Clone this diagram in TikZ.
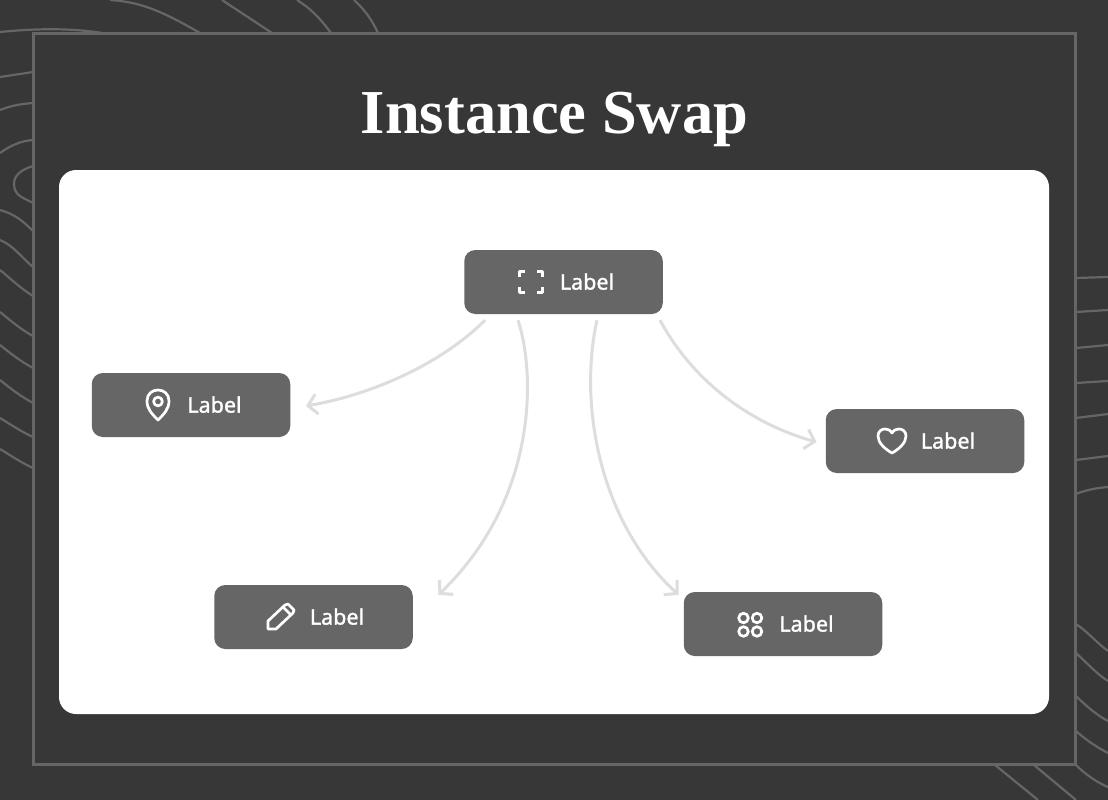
\documentclass[tikz,border=0pt]{standalone}
\usepackage{fontspec}
\setmainfont{Liberation Serif}
\newfontfamily\labelfont[FakeBold=1.4]{Noto Sans}
\usetikzlibrary{arrows.meta}
\definecolor{backdrop}{HTML}{373737}
\definecolor{linegray}{HTML}{666666}
\definecolor{arrowgray}{HTML}{DDDDDD}
\tikzstyle{box} = [
	rectangle,
	rounded corners=11pt,
	minimum width=198.5pt,
	minimum height=64pt,
	inner sep=0pt,
	fill=linegray
]
\tikzstyle{tag} = [
	anchor=base,
	inner sep=0pt,
	text=white,
	font=\labelfont\fontsize{21.5}{24}\selectfont
]
\tikzstyle{contour} = [draw=linegray, line width=2.2pt]
\tikzstyle{icon} = [draw=white, line width=2.7pt, line join=round]
\tikzstyle{arrow} = [draw=arrowgray, line width=3pt, -{Straight Barb[length=9pt,width=20pt]}]

\begin{document}
\begin{tikzpicture}[x=1pt, y=-1pt]
    \useasboundingbox (0, 0) rectangle (1108, 800);
    \fill[backdrop] (0, 0) rectangle (1108, 800);
    % top and left lines
    \draw[contour] (0, 32) .. controls (30, 29) and (70, 27) .. (108, 34);
    \draw[contour] (110, 0) .. controls (140, 2) and (160, 10) .. (200, 33);
    \draw[contour] (222, 0) -- (272, 33);
    \draw[contour] (297, 0) .. controls (310, 8) and (320, 18) .. (331, 33);
    \draw[contour] (354, 0) .. controls (365, 10) and (372, 20) .. (378, 33);
    \draw[contour] (0, 77) -- (33, 72);
    \draw[contour] (0, 110) .. controls (10, 106) and (20, 104) .. (33, 103);
    \draw[contour] (0, 153) .. controls (10, 146) and (20, 141) .. (33, 140);
    \draw[contour] (33, 166) .. controls (20, 170) and (14, 176) .. (14, 184) .. controls (14, 196) and (24, 198) .. (33, 203);
    \draw[contour] (0, 210) .. controls (14, 214) and (22, 220) .. (33, 231);
    \draw[contour] (0, 240) .. controls (14, 246) and (20, 256) .. (33, 267);
    \draw[contour] (0, 270) .. controls (10, 278) and (20, 288) .. (33, 296);
    \draw[contour] (0, 312) .. controls (10, 320) and (20, 329) .. (33, 336);
    \draw[contour] (0, 345) .. controls (10, 353) and (20, 361) .. (33, 368);
    \draw[contour] (0, 380) .. controls (10, 388) and (20, 396) .. (33, 403);
    \draw[contour] (0, 418) .. controls (10, 424) and (20, 431) .. (33, 437);
    \draw[contour] (0, 449) .. controls (10, 455) and (20, 462) .. (33, 468);
    % right and bottom lines
    \draw[contour] (1076, 278) -- (1108, 277);
    \draw[contour] (1076, 312) -- (1108, 310);
    \draw[contour] (1076, 348) -- (1108, 345);
    \draw[contour] (1076, 383) -- (1108, 381);
    \draw[contour] (1076, 418) -- (1108, 414);
    \draw[contour] (1076, 460) -- (1108, 456);
    \draw[contour] (1076, 494) .. controls (1086, 490) and (1096, 488) .. (1108, 487);
    \draw[contour] (1076, 624) .. controls (1088, 632) and (1098, 644) .. (1108, 651);
    \draw[contour] (1076, 653) .. controls (1088, 664) and (1098, 675) .. (1108, 681);
    \draw[contour] (1076, 696) .. controls (1086, 706) and (1098, 716) .. (1108, 721);
    \draw[contour] (1076, 731) .. controls (1086, 740) and (1098, 748) .. (1108, 753);
    \draw[contour] (1076, 765) .. controls (1086, 775) and (1098, 783) .. (1108, 787);
    \draw[contour] (995, 765) -- (1038, 800);
    \draw[contour] (1034, 765) -- (1076, 800);
    % frame and panel
    \draw[draw=linegray, fill=backdrop, line width=3pt] (33.5, 33.5) rectangle (1075.7, 764.5);
    \node (panel) at (554, 442) [rectangle, fill=white, rounded corners=17pt, minimum width=990pt, minimum height=544pt, inner sep=0pt] {};
    \node (title) at (554.5, 133) [anchor=base, inner sep=0pt, text=white, font=\bfseries\fontsize{62.5}{70}\selectfont] {Instance Swap};
    % boxes
    \node (source) at (563.5, 282) [box] {};
    \node (pin) at (191, 405) [box] {};
    \node (heart) at (925, 441) [box] {};
    \node (pencil) at (313.5, 617) [box] {};
    \node (grid) at (783, 624) [box] {};
    \node (source label) at ([shift={(23.5, 7.6)}]source.center) [tag] {Label};
    \node (pin label) at ([shift={(23.5, 7.6)}]pin.center) [tag] {Label};
    \node (heart label) at ([shift={(23, 7.6)}]heart.center) [tag] {Label};
    \node (pencil label) at ([shift={(23.5, 7.6)}]pencil.center) [tag] {Label};
    \node (grid label) at ([shift={(23.5, 7.6)}]grid.center) [tag] {Label};
    % icons
    \draw[icon] (519.5, 277) -- (519.5, 271.5) -- (525, 271.5);
    \draw[icon] (537, 271.5) -- (542.5, 271.5) -- (542.5, 277);
    \draw[icon] (542.5, 287) -- (542.5, 292.5) -- (537, 292.5);
    \draw[icon] (525, 292.5) -- (519.5, 292.5) -- (519.5, 287);
    \draw[icon] (158, 420) .. controls (152, 414) and (147, 409) .. (147, 401) .. controls (147, 394) and (152, 390) .. (158, 390) .. controls (164, 390) and (169, 394) .. (169, 401) .. controls (169, 409) and (164, 414) .. (158, 420) -- cycle;
    \draw[icon] (158, 401.5) circle (4.4);
    \draw[icon] (892, 453) .. controls (885, 449) and (878, 443) .. (878, 436) .. controls (878, 431) and (882, 429) .. (885, 429) .. controls (888, 429) and (890, 430) .. (892, 433) .. controls (894, 430) and (896, 429) .. (899, 429) .. controls (902, 429) and (906, 431) .. (906, 436) .. controls (906, 443) and (899, 449) .. (892, 453) -- cycle;
    \draw[icon] (268, 629) -- (268, 621) -- (285, 605) -- (288, 604) -- (294, 610) -- (293, 613) -- (276, 629) -- cycle;
    \draw[icon] (283, 607) -- (291, 615);
    \foreach \x in {743.5, 757}
        \foreach \y in {618, 631.5}
            \draw[icon] (\x, \y) circle (4.8);
    % arrows
    \draw[arrow] ([shift={(-78.5, 6)}]source.south) .. controls (440, 365) and (370, 395) .. ([shift={(15.5, 1)}]pin.east);
    \draw[arrow] ([shift={(-45.5, 6)}]source.south) .. controls (536, 375) and (537, 500) .. ([shift={(25.5, 10)}]pencil.north east);
    \draw[arrow] ([shift={(33.5, 6)}]source.south) .. controls (579, 400) and (597, 520) .. ([shift={(-5, 3)}]grid.north west);
    \draw[arrow] ([shift={(96.5, 6)}]source.south) .. controls (695, 385) and (755, 425) .. ([shift={(-9, 1)}]heart.west);
\end{tikzpicture}
\end{document}
